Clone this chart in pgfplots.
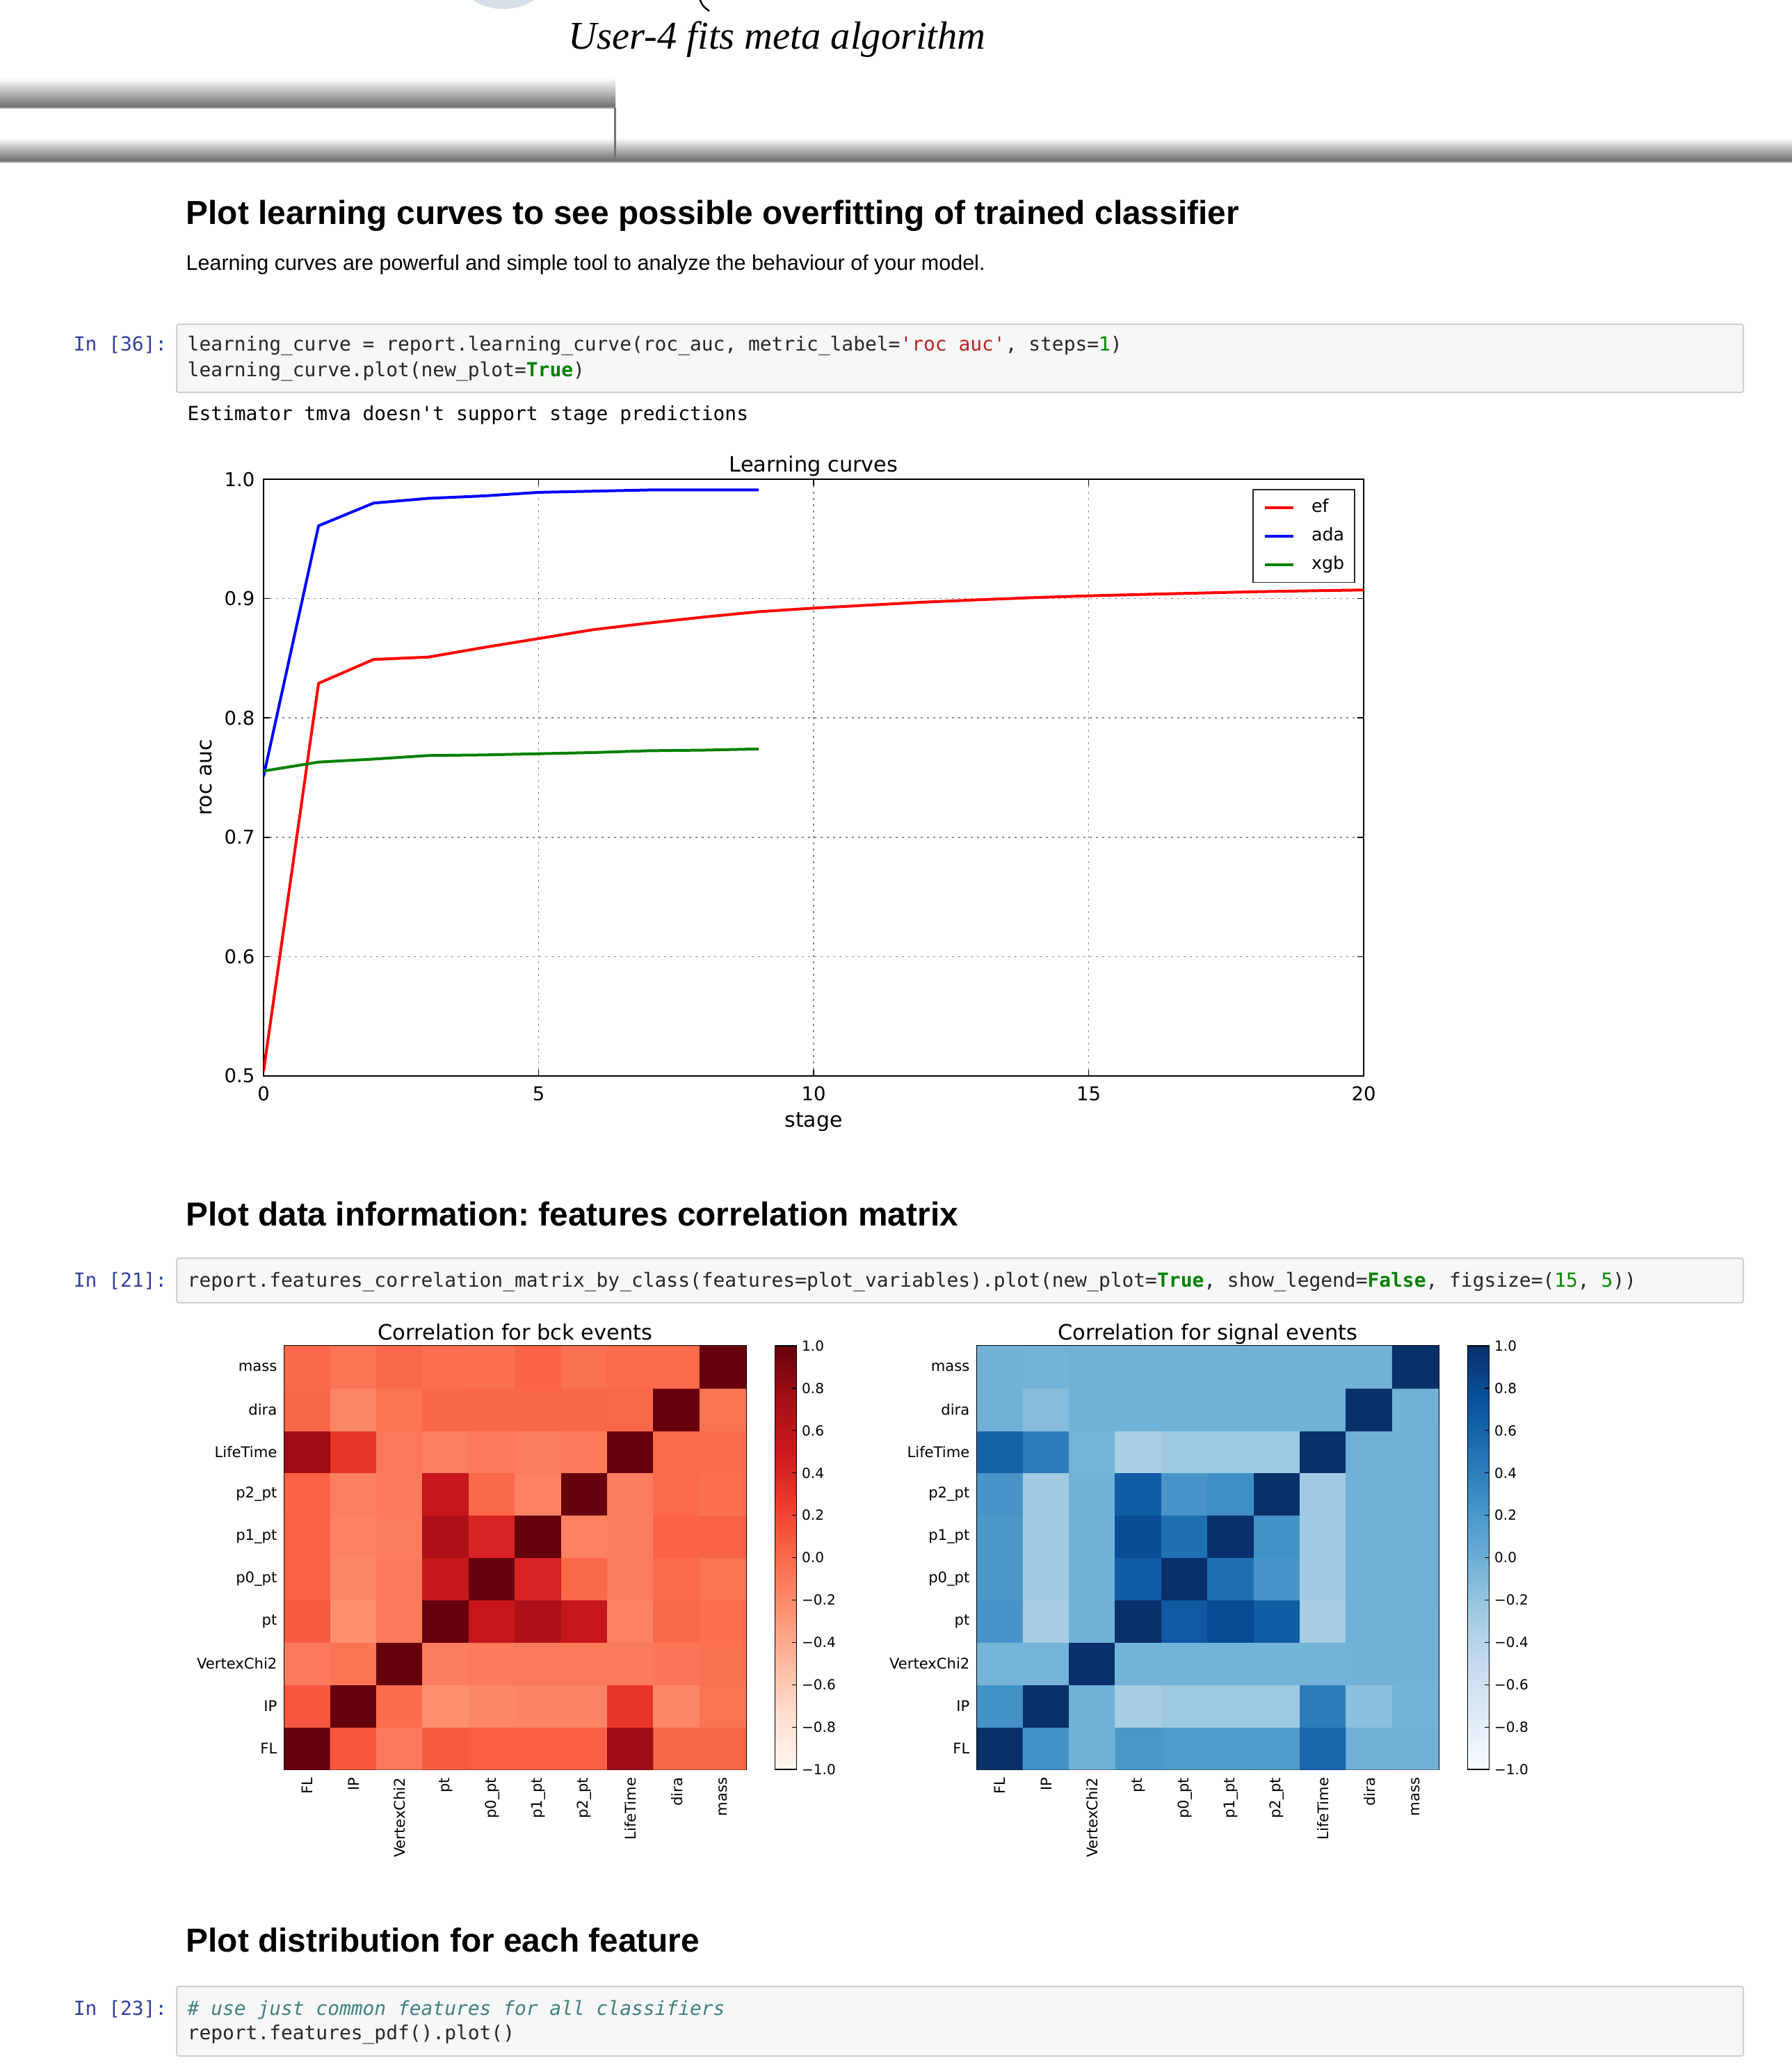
\documentclass[border=0pt]{standalone}
\usepackage{fontspec}
\usepackage{graphicx}
\usepackage{pgfplots}
\pgfplotsset{compat=1.18}
\setmainfont{Liberation Sans}
\setmonofont{DejaVu Sans Mono}
\newfontfamily\mplfont{DejaVu Sans}
\newfontfamily\serifit{Liberation Serif}
\newcommand{\fs}[1]{\fontsize{#1}{#1}\selectfont}
\frenchspacing

\definecolor{prompt}{HTML}{303F9F}
\definecolor{cstr}{HTML}{BA2121}
\definecolor{ckw}{HTML}{008000}
\definecolor{cnum}{HTML}{008800}
\definecolor{ccom}{HTML}{408080}
\definecolor{cellbg}{HTML}{F7F7F7}
\definecolor{cellbd}{HTML}{CFCFCF}
\definecolor{topcircle}{HTML}{D6E0E4}
\definecolor{mplgreen}{HTML}{008000}

% heatmap axes (matplotlib look)
\pgfplotsset{
  heat/.style={
    scale only axis, anchor=north west,
    width=66.4mm, height=60.9mm,
    xmin=-0.5, xmax=9.5, ymin=-0.5, ymax=9.5,
    xtick={0,...,9}, ytick={0,...,9},
    xticklabels={FL,IP,VertexChi2,pt,p0\_pt,p1\_pt,p2\_pt,LifeTime,dira,mass},
    yticklabels={FL,IP,VertexChi2,pt,p0\_pt,p1\_pt,p2\_pt,LifeTime,dira,mass},
    tick align=inside, tick pos=both, major tick length=0.8mm,
    every tick/.style={black, line width=0.12mm},
    axis line style={black, line width=0.15mm},
    tick label style={font=\mplfont\fs{6.0}, inner sep=0pt},
    xticklabel style={yshift=-1.1mm, rotate=90, anchor=east},
    yticklabel style={anchor=east, xshift=-1.0mm},
    title style={font=\mplfont\fs{8.65}, at={(0.5,1)}, anchor=base, yshift=-1.3mm, inner sep=0pt},
    point meta min=-1, point meta max=1,
    colorbar,
    colorbar shift/.style={xshift=4.15mm},
    colorbar style={
      at={(parent axis.north east)}, anchor=north west,
      scale only axis, width=3.1mm, height=60.9mm,
      ytick={-1,-0.8,-0.6,-0.4,-0.2,0,0.2,0.4,0.6,0.8,1},
      yticklabels={−1.0,−0.8,−0.6,−0.4,−0.2,0.0,0.2,0.4,0.6,0.8,1.0},
      yticklabel style={font=\mplfont\fs{5.7}, anchor=west, xshift=0.7mm, inner sep=0pt},
      ytick pos=right, yticklabel pos=right,
      tick align=inside, major tick length=0.6mm,
      every tick/.style={black, line width=0.12mm},
      axis line style={black, line width=0.15mm},
    },
  },
}

\begin{document}
\begin{tikzpicture}
\path[use as bounding box] (0,0) rectangle (257.7mm,-296.9mm);

\begin{scope}[x=0.1mm, y=-0.1mm]
  % page decorations at the top
  \begin{scope}
    \clip (0,0) rectangle (2577,2969);
    \fill[topcircle] (724,-38) ellipse [x radius=66, y radius=51];
    \draw[black, line width=0.25mm] (1006,-2) .. controls (1010,8) .. (1020,16);
  \end{scope}
  \node[anchor=base west, inner sep=0] at (817,70)
    {\resizebox{60mm}{!}{\serifit\itshape User-4 fits meta algorithm}};
  \shade[top color=white, bottom color=black!58] (0,112) rectangle (885,155);
  \draw[black!40, line width=0.15mm] (0,155) -- (884,155);
  \shade[top color=white, bottom color=black!60] (0,198) rectangle (2577,233);
  \draw[black!55, line width=0.3mm] (884,155) -- (884,233);
  \draw[black!35, line width=0.2mm] (0,233) -- (2577,233);

  % section 1
  \node[anchor=base west, inner sep=0, font=\bfseries\fs{13.6}] at (267,322)
    {Plot learning curves to see possible overfitting of trained classifier};
  \node[anchor=base west, inner sep=0] at (267,388)
    {\resizebox{114.9mm}{!}{Learning curves are powerful and simple tool to analyze the behaviour of your model.}};
  \filldraw[fill=cellbg, draw=cellbd, line width=0.2mm, rounded corners=0.3mm] (254,466) rectangle (2507,564);
  \node[anchor=base east, inner sep=0, font=\ttfamily\fs{7.94}, text=prompt] at (241,504) {In [36]:};
  \node[anchor=base west, inner sep=0, font=\ttfamily\fs{7.94}, text=black!85] at (269,504)
    {learning\_curve = report.learning\_curve(roc\_auc, metric\_label=\textcolor{cstr}{'roc auc'}, steps=\textcolor{cnum}{1})};
  \node[anchor=base west, inner sep=0, font=\ttfamily\fs{7.94}, text=black!85] at (269,541)
    {learning\_curve.plot(new\_plot=\textcolor{ckw}{\bfseries True})};
  \node[anchor=base west, inner sep=0, font=\ttfamily\fs{7.94}, text=black] at (269,604)
    {Estimator tmva doesn't support stage predictions};

  % section 2
  \node[anchor=base west, inner sep=0, font=\bfseries\fs{13.6}] at (267,1762)
    {Plot data information: features correlation matrix};
  \filldraw[fill=cellbg, draw=cellbd, line width=0.2mm, rounded corners=0.3mm] (254,1809) rectangle (2507,1873);
  \node[anchor=base east, inner sep=0, font=\ttfamily\fs{7.94}, text=prompt] at (241,1850) {In [21]:};
  \node[anchor=base west, inner sep=0, font=\ttfamily\fs{7.94}, text=black!85] at (269,1850)
    {report.features\_correlation\_matrix\_by\_class(features=plot\_variables).plot(new\_plot=\textcolor{ckw}{\bfseries True}, show\_legend=\textcolor{ckw}{\bfseries False}, figsize=(\textcolor{cnum}{15}, \textcolor{cnum}{5}))};

  % section 3
  \node[anchor=base west, inner sep=0, font=\bfseries\fs{13.6}] at (267,2806)
    {Plot distribution for each feature};
  \filldraw[fill=cellbg, draw=cellbd, line width=0.2mm, rounded corners=0.3mm] (254,2856) rectangle (2507,2956);
  \node[anchor=base east, inner sep=0, font=\ttfamily\fs{7.94}, text=prompt] at (241,2897) {In [23]:};
  \node[anchor=base west, inner sep=0, font=\ttfamily\fs{7.94}, text=ccom] at (269,2897)
    {\itshape \# use just common features for all classifiers};
  \node[anchor=base west, inner sep=0, font=\ttfamily\fs{7.94}, text=black!85] at (269,2932)
    {report.features\_pdf().plot()};
\end{scope}

% learning curves
\begin{axis}[
  at={(37.9mm,-68.9mm)}, anchor=north west,
  scale only axis, width=158.2mm, height=85.8mm,
  xmin=0, xmax=20, ymin=0.5, ymax=1,
  xtick={0,5,10,15,20}, xticklabels={0,5,10,15,20},
  ytick={0.5,0.6,0.7,0.8,0.9,1.0}, yticklabels={0.5,0.6,0.7,0.8,0.9,1.0},
  tick align=inside, tick pos=both, major tick length=0.9mm,
  every tick/.style={black, line width=0.15mm},
  axis line style={black, line width=0.2mm},
  grid=major, grid style={black!45, line width=0.15mm, dash pattern=on 0.3mm off 0.6mm},
  tick label style={font=\mplfont\fs{7.8}, inner sep=0pt},
  xticklabel style={anchor=base, yshift=-3.5mm},
  yticklabel style={anchor=east, xshift=-1.2mm},
  title={Learning curves},
  title style={font=\mplfont\fs{8.65}, at={(0.5,1)}, anchor=base, yshift=-1.1mm, inner sep=0pt},
  xlabel={stage}, ylabel={roc auc},
  label style={font=\mplfont\fs{8.5}, inner sep=0pt},
  xlabel style={at={(axis description cs:0.5,0)}, anchor=base, yshift=-7.3mm},
  ylabel style={at={(axis description cs:-0.047,0.5)}, anchor=base},
  legend style={at={(0.9924,0.9837)}, anchor=north east, draw=black!85, line width=0.15mm,
    fill=white, font=\mplfont\fs{7.2}, inner xsep=1.5mm, inner ysep=1.4mm, row sep=1.75mm,
    nodes={inner sep=0pt, text height=1.85mm, text depth=0.5mm},
    /tikz/every odd column/.append style={column sep=2.4mm}},
  legend cell align=left,
  legend image code/.code={\draw[#1] (0mm,0mm) -- (4.1mm,0mm);},
]
\addplot[color=red, line width=0.4mm, line join=round] coordinates {
  (0,0.504) (1,0.829) (2,0.849) (3,0.851) (4,0.859) (5,0.8665) (6,0.874)
  (7,0.8795) (8,0.8845) (9,0.889) (10,0.892) (11,0.8945) (12,0.897) (13,0.899)
  (14,0.9008) (15,0.9023) (16,0.9035) (17,0.9046) (18,0.9057) (19,0.9065) (20,0.9072)
};
\addlegendentry{ef}
\addplot[color=blue, line width=0.4mm, line join=round] coordinates {
  (0,0.751) (1,0.961) (2,0.980) (3,0.984) (4,0.986) (5,0.989) (6,0.990)
  (7,0.991) (8,0.991) (9,0.991)
};
\addlegendentry{ada}
\addplot[color=mplgreen, line width=0.4mm, line join=round] coordinates {
  (0,0.7555) (1,0.763) (2,0.7655) (3,0.7685) (4,0.769) (5,0.770) (6,0.771)
  (7,0.7725) (8,0.773) (9,0.774)
};
\addlegendentry{xgb}
\end{axis}

% correlation for bck events
\begin{axis}[heat, at={(40.9mm,-193.5mm)},
  title={Correlation for bck events},
  colormap={reds}{rgb255=(255,245,240) rgb255=(254,224,210) rgb255=(252,187,161)
    rgb255=(252,146,114) rgb255=(251,106,74) rgb255=(239,59,44) rgb255=(203,24,29)
    rgb255=(165,15,21) rgb255=(103,0,13)},
]
\addplot[matrix plot*, mesh/cols=10, point meta=explicit] table[meta=c, row sep=\\] {
x y c \\
0 0 1.00 \\ 1 0 0.10 \\ 2 0 -0.10 \\ 3 0 0.08 \\ 4 0 0.06 \\ 5 0 0.06 \\ 6 0 0.06 \\ 7 0 0.78 \\ 8 0 0.02 \\ 9 0 0.02 \\
0 1 0.10 \\ 1 1 1.00 \\ 2 1 -0.02 \\ 3 1 -0.24 \\ 4 1 -0.18 \\ 5 1 -0.16 \\ 6 1 -0.16 \\ 7 1 0.30 \\ 8 1 -0.18 \\ 9 1 -0.06 \\
0 2 -0.10 \\ 1 2 -0.06 \\ 2 2 1.00 \\ 3 2 -0.12 \\ 4 2 -0.10 \\ 5 2 -0.10 \\ 6 2 -0.10 \\ 7 2 -0.10 \\ 8 2 -0.08 \\ 9 2 -0.05 \\
0 3 0.08 \\ 1 3 -0.24 \\ 2 3 -0.10 \\ 3 3 1.00 \\ 4 3 0.52 \\ 5 3 0.70 \\ 6 3 0.55 \\ 7 3 -0.15 \\ 8 3 0.01 \\ 9 3 -0.04 \\
0 4 0.05 \\ 1 4 -0.18 \\ 2 4 -0.10 \\ 3 4 0.52 \\ 4 4 1.00 \\ 5 4 0.42 \\ 6 4 0.01 \\ 7 4 -0.11 \\ 8 4 0.00 \\ 9 4 -0.06 \\
0 5 0.05 \\ 1 5 -0.15 \\ 2 5 -0.11 \\ 3 5 0.70 \\ 4 5 0.42 \\ 5 5 1.00 \\ 6 5 -0.15 \\ 7 5 -0.12 \\ 8 5 0.03 \\ 9 5 0.04 \\
0 6 0.04 \\ 1 6 -0.14 \\ 2 6 -0.10 \\ 3 6 0.55 \\ 4 6 0.01 \\ 5 6 -0.15 \\ 6 6 1.00 \\ 7 6 -0.12 \\ 8 6 0.00 \\ 9 6 -0.04 \\
0 7 0.78 \\ 1 7 0.30 \\ 2 7 -0.09 \\ 3 7 -0.14 \\ 4 7 -0.10 \\ 5 7 -0.11 \\ 6 7 -0.09 \\ 7 7 1.00 \\ 8 7 0.00 \\ 9 7 -0.01 \\
0 8 0.02 \\ 1 8 -0.18 \\ 2 8 -0.06 \\ 3 8 0.02 \\ 4 8 0.02 \\ 5 8 0.02 \\ 6 8 0.02 \\ 7 8 0.01 \\ 8 8 1.00 \\ 9 8 -0.06 \\
0 9 0.01 \\ 1 9 -0.06 \\ 2 9 0.01 \\ 3 9 -0.03 \\ 4 9 -0.04 \\ 5 9 0.03 \\ 6 9 -0.05 \\ 7 9 0.00 \\ 8 9 0.00 \\ 9 9 1.00 \\
};
\end{axis}

% correlation for signal events
\begin{axis}[heat, at={(140.5mm,-193.5mm)},
  title={Correlation for signal events},
  colormap={blues}{rgb255=(247,251,255) rgb255=(222,235,247) rgb255=(198,219,239)
    rgb255=(158,202,225) rgb255=(107,174,214) rgb255=(66,146,198) rgb255=(33,113,181)
    rgb255=(8,81,156) rgb255=(8,48,107)},
]
\addplot[matrix plot*, mesh/cols=10, point meta=explicit] table[meta=c, row sep=\\] {
x y c \\
0 0 1.00 \\ 1 0 0.25 \\ 2 0 -0.03 \\ 3 0 0.20 \\ 4 0 0.17 \\ 5 0 0.17 \\ 6 0 0.17 \\ 7 0 0.58 \\ 8 0 -0.02 \\ 9 0 -0.03 \\
0 1 0.25 \\ 1 1 1.00 \\ 2 1 -0.03 \\ 3 1 -0.30 \\ 4 1 -0.25 \\ 5 1 -0.25 \\ 6 1 -0.25 \\ 7 1 0.42 \\ 8 1 -0.15 \\ 9 1 -0.04 \\
0 2 -0.05 \\ 1 2 -0.05 \\ 2 2 1.00 \\ 3 2 -0.04 \\ 4 2 -0.04 \\ 5 2 -0.04 \\ 6 2 -0.04 \\ 7 2 -0.04 \\ 8 2 -0.03 \\ 9 2 -0.03 \\
0 3 0.22 \\ 1 3 -0.30 \\ 2 3 -0.03 \\ 3 3 1.00 \\ 4 3 0.68 \\ 5 3 0.80 \\ 6 3 0.65 \\ 7 3 -0.30 \\ 8 3 -0.02 \\ 9 3 -0.03 \\
0 4 0.20 \\ 1 4 -0.27 \\ 2 4 -0.03 \\ 3 4 0.66 \\ 4 4 1.00 \\ 5 4 0.52 \\ 6 4 0.22 \\ 7 4 -0.27 \\ 8 4 -0.02 \\ 9 4 -0.02 \\
0 5 0.20 \\ 1 5 -0.27 \\ 2 5 -0.03 \\ 3 5 0.78 \\ 4 5 0.52 \\ 5 5 1.00 \\ 6 5 0.25 \\ 7 5 -0.27 \\ 8 5 -0.02 \\ 9 5 -0.02 \\
0 6 0.22 \\ 1 6 -0.27 \\ 2 6 -0.03 \\ 3 6 0.66 \\ 4 6 0.22 \\ 5 6 0.27 \\ 6 6 1.00 \\ 7 6 -0.27 \\ 8 6 -0.02 \\ 9 6 -0.02 \\
0 7 0.62 \\ 1 7 0.42 \\ 2 7 -0.05 \\ 3 7 -0.32 \\ 4 7 -0.25 \\ 5 7 -0.25 \\ 6 7 -0.25 \\ 7 7 1.00 \\ 8 7 -0.02 \\ 9 7 -0.02 \\
0 8 -0.03 \\ 1 8 -0.13 \\ 2 8 -0.03 \\ 3 8 -0.03 \\ 4 8 -0.03 \\ 5 8 -0.03 \\ 6 8 -0.03 \\ 7 8 -0.03 \\ 8 8 1.00 \\ 9 8 -0.03 \\
0 9 -0.03 \\ 1 9 -0.04 \\ 2 9 -0.03 \\ 3 9 -0.03 \\ 4 9 -0.03 \\ 5 9 -0.03 \\ 6 9 -0.03 \\ 7 9 -0.03 \\ 8 9 -0.03 \\ 9 9 1.00 \\
};
\end{axis}
\end{tikzpicture}
\end{document}
